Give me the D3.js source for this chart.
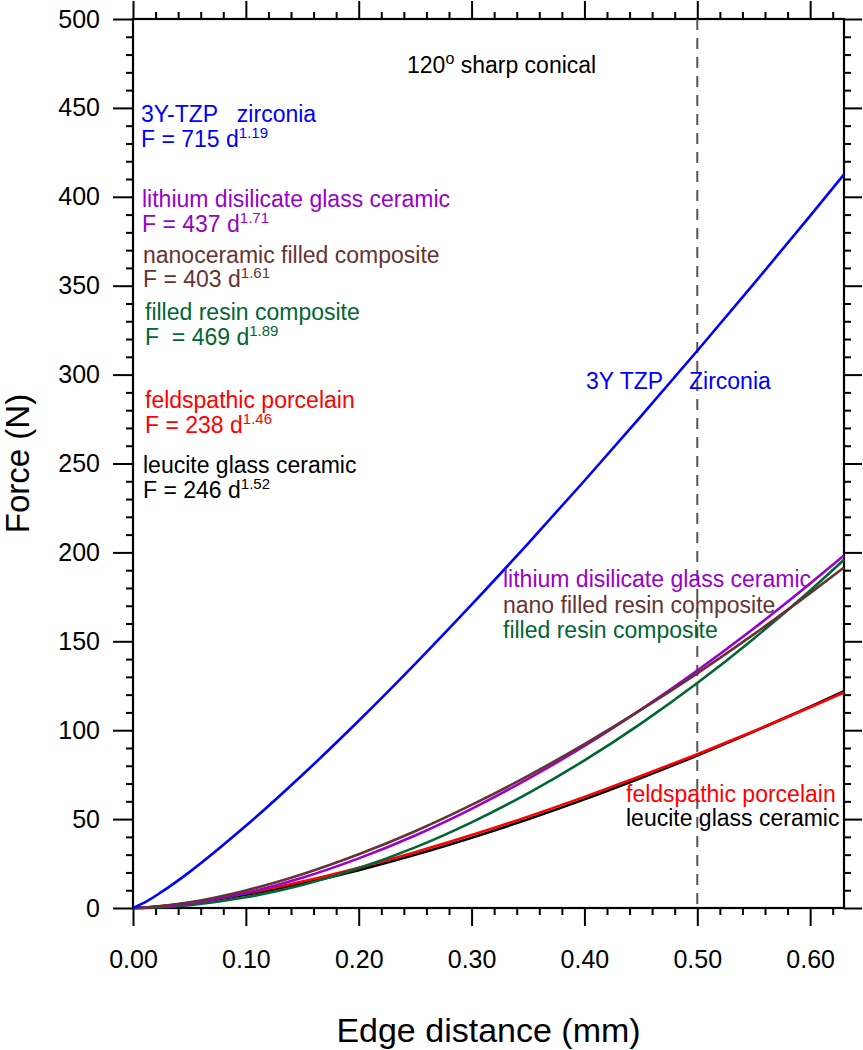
<!DOCTYPE html>
<html>
<head>
<meta charset="utf-8">
<script src="https://cdn.jsdelivr.net/npm/d3@7"></script>
<style>
  html, body { margin: 0; padding: 0; background: #fff; }
  svg { display: block; font-family: "Liberation Sans", Arial, Helvetica, sans-serif; }
  text { white-space: pre; }
</style>
</head>
<body>
<svg id="chart" width="863" height="1050"></svg>
<script>
// ---- data ----
const edgeDistance = [0, 0.01, 0.025, 0.05, 0.1, 0.15, 0.2, 0.25, 0.3, 0.35, 0.4, 0.45, 0.5, 0.55, 0.6, 0.63];
const zirconia     = [0, 3.0, 8.9, 20.2, 46.2, 74.8, 105.3, 137.3, 170.6, 205.0, 240.3, 276.5, 313.4, 351.0, 389.3, 412.6];
const lithiumDisil = [0, 0.2, 0.8, 2.6, 8.5, 17.0, 27.9, 40.8, 55.8, 72.6, 91.2, 111.6, 133.6, 157.2, 182.5, 198.3];
const nanoCeramic  = [0, 0.25, 1.06, 3.2, 9.9, 19.0, 30.2, 43.2, 58.0, 74.3, 92.2, 111.4, 132.0, 153.9, 177.1, 191.5];
const filledResin  = [0, 0.08, 0.44, 1.6, 6.0, 13.0, 22.4, 34.1, 48.2, 64.5, 83.0, 103.7, 126.5, 151.5, 178.6, 195.9];
const feldspathic  = [0, 0.28, 1.09, 3.0, 8.3, 14.9, 22.7, 31.4, 41.0, 51.4, 62.5, 74.2, 86.5, 99.4, 112.9, 121.2];
const leucite      = [0, 0.23, 0.90, 2.6, 7.4, 13.8, 21.3, 29.9, 39.5, 49.9, 61.1, 73.1, 85.8, 99.2, 113.2, 121.9];

const xMajorTicks = [0, 0.1, 0.2, 0.3, 0.4, 0.5, 0.6];
const xTickLabels = ["0.00", "0.10", "0.20", "0.30", "0.40", "0.50", "0.60"];
const yMajorTicks = [0, 50, 100, 150, 200, 250, 300, 350, 400, 450, 500];
const yTickLabels = ["0", "50", "100", "150", "200", "250", "300", "350", "400", "450", "500"];
const referenceLineX = 0.5;

const seriesNames  = ["leucite glass ceramic", "feldspathic porcelain", "filled resin composite", "lithium disilicate glass ceramic", "nanoceramic filled composite", "3Y-TZP zirconia"];
const seriesValues = [leucite, feldspathic, filledResin, lithiumDisil, nanoCeramic, zirconia];
const seriesColors = ["#000000", "#ff0000", "#006633", "#9900cc", "#663333", "#0000ff"];

// ---- layout ----
const svg = d3.select("#chart");
const L = 133, R = 844, T = 19, B = 908;
const x = d3.scaleLinear().domain([0, 0.63]).range([L, R]);
const y = d3.scaleLinear().domain([0, 500]).range([B, T]);

const xMinor = d3.range(0, 0.6201, 0.02).map(v => +v.toFixed(2)).filter(v => !xMajorTicks.some(m => Math.abs(m - v) < 1e-9));
const yMinor = d3.range(0, 501, 10).filter(v => v % 50 !== 0);

function styleAxis(g) {
  g.select(".domain").remove();
  g.selectAll(".tick line").attr("stroke", "#000").attr("stroke-width", 2);
  g.selectAll(".tick text").attr("fill", "#000");
}
const MAJ = 18, MIN = 7;

// bottom
svg.append("g").attr("transform", `translate(0,${B})`)
  .call(d3.axisBottom(x).tickValues(xMinor).tickSize(MIN).tickSizeOuter(0).tickFormat(""))
  .call(styleAxis);
svg.append("g").attr("transform", `translate(0,${B})`)
  .call(d3.axisBottom(x).tickValues(xMajorTicks).tickSize(MAJ).tickSizeOuter(0).tickPadding(24)
    .tickFormat((d, i) => xTickLabels[i]))
  .call(styleAxis)
  .call(g => g.selectAll(".tick text").attr("font-size", 25).attr("font-family", "Liberation Sans, Arial, sans-serif"));
// top
svg.append("g").attr("transform", `translate(0,${T})`)
  .call(d3.axisTop(x).tickValues(xMinor).tickSize(MIN).tickSizeOuter(0).tickFormat(""))
  .call(styleAxis);
svg.append("g").attr("transform", `translate(0,${T})`)
  .call(d3.axisTop(x).tickValues(xMajorTicks).tickSize(MAJ).tickSizeOuter(0).tickFormat(""))
  .call(styleAxis);
// left
svg.append("g").attr("transform", `translate(${L},0)`)
  .call(d3.axisLeft(y).tickValues(yMinor).tickSize(MIN).tickSizeOuter(0).tickFormat(""))
  .call(styleAxis);
svg.append("g").attr("transform", `translate(${L},0)`)
  .call(d3.axisLeft(y).tickValues(yMajorTicks).tickSize(MAJ + 2).tickSizeOuter(0).tickPadding(13)
    .tickFormat((d, i) => yTickLabels[i]))
  .call(styleAxis)
  .call(g => g.selectAll(".tick text").attr("font-size", 25).attr("font-family", "Liberation Sans, Arial, sans-serif"));
// right
svg.append("g").attr("transform", `translate(${R},0)`)
  .call(d3.axisRight(y).tickValues(yMinor).tickSize(MIN).tickSizeOuter(0).tickFormat(""))
  .call(styleAxis);
svg.append("g").attr("transform", `translate(${R},0)`)
  .call(d3.axisRight(y).tickValues(yMajorTicks).tickSize(MAJ).tickSizeOuter(0).tickFormat(""))
  .call(styleAxis);

// frame
svg.append("rect").attr("x", L).attr("y", T).attr("width", R - L).attr("height", B - T)
  .attr("fill", "none").attr("stroke", "#000").attr("stroke-width", 2.2);

// reference dashed line
svg.append("line")
  .attr("x1", x(referenceLineX)).attr("x2", x(referenceLineX))
  .attr("y1", y(500)).attr("y2", y(0))
  .attr("stroke", "#555").attr("stroke-width", 2).attr("stroke-dasharray", "11,8");

// curves
const line = d3.line().x((d, i) => x(edgeDistance[i])).y(d => y(d)).curve(d3.curveMonotoneX);
seriesValues.forEach((vals, k) => {
  svg.append("path").datum(vals)
    .attr("d", line)
    .attr("fill", "none")
    .attr("stroke", seriesColors[k])
    .attr("stroke-width", 2.6)
    .attr("stroke-linejoin", "round");
});

// text helpers
function label(xp, yp, color, parts, size = 23) {
  const t = svg.append("text").attr("x", xp).attr("y", yp).attr("fill", color).attr("font-size", size);
  let pending = 0;
  parts.forEach(p => {
    if (typeof p === "string") {
      const s = t.append("tspan").text(p);
      if (pending) { s.attr("dy", pending); pending = 0; }
    } else {
      t.append("tspan").attr("font-size", p.size || 15).attr("dy", -9).text(p.sup);
      pending = 9;
    }
  });
  return t;
}

// title
label(407, 73, "#000", ["120", { sup: "o", size: 16 }, " sharp conical"]);

// left legend block
label(141, 122, seriesColors[5], ["3Y-TZP   zirconia"]);
label(141, 147, seriesColors[5], ["F = 715 d", { sup: "1.19" }]);
label(142, 207, seriesColors[3], ["lithium disilicate glass ceramic"]);
label(142, 232, seriesColors[3], ["F = 437 d", { sup: "1.71" }]);
label(143, 263, seriesColors[4], ["nanoceramic filled composite"]);
label(143, 287, seriesColors[4], ["F = 403 d", { sup: "1.61" }]);
label(145, 320, seriesColors[2], ["filled resin composite"]);
label(145, 345, seriesColors[2], ["F  = 469 d", { sup: "1.89" }]);
label(145, 408, seriesColors[1], ["feldspathic porcelain"]);
label(145, 433, seriesColors[1], ["F = 238 d", { sup: "1.46" }]);
label(143, 473, seriesColors[0], ["leucite glass ceramic"]);
label(143, 498, seriesColors[0], ["F = 246 d", { sup: "1.52" }]);

// in-plot labels
label(586, 389, seriesColors[5], ["3Y TZP"]);
label(689, 389, seriesColors[5], ["Zirconia"]);
label(503, 587, seriesColors[3], ["lithium disilicate glass ceramic"]);
label(503, 613, seriesColors[4], ["nano filled resin composite"]);
label(503, 638, seriesColors[2], ["filled resin composite"]);
label(626, 802, seriesColors[1], ["feldspathic porcelain"]);
label(626, 826, seriesColors[0], ["leucite glass ceramic"]);

// axis titles
svg.append("text").attr("x", (L + R) / 2).attr("y", 1042).attr("text-anchor", "middle")
  .attr("font-size", 34).attr("fill", "#000").text("Edge distance (mm)");
svg.append("text").attr("transform", `translate(29,${(T + B) / 2}) rotate(-90)`).attr("text-anchor", "middle")
  .attr("font-size", 33).attr("fill", "#000").text("Force (N)");
</script>
</body>
</html>
